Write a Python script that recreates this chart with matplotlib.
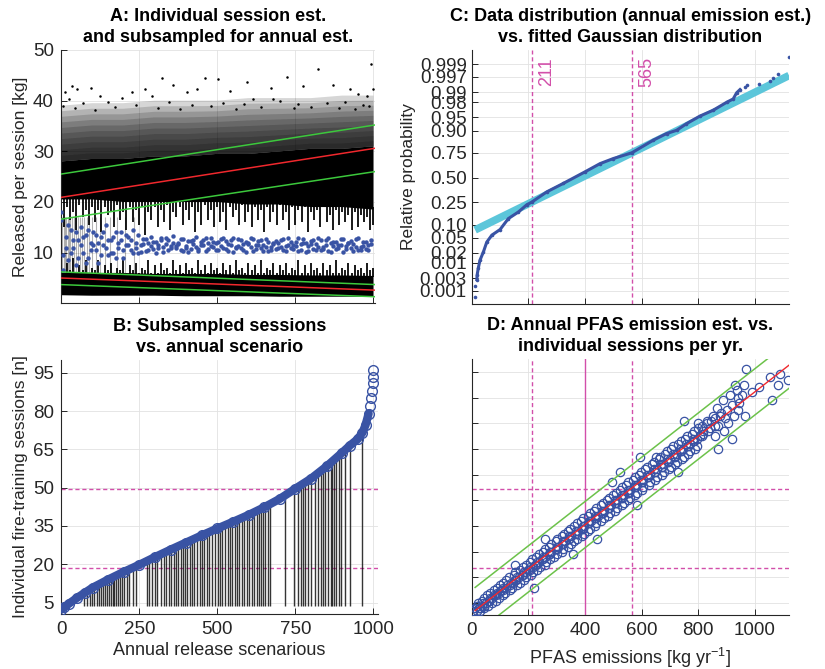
from statistics import NormalDist

import matplotlib
matplotlib.use("Agg")
import matplotlib.pyplot as plt
import numpy as np

plt.rcParams["font.family"] = ["Liberation Sans", "DejaVu Sans"]
plt.rcParams["mathtext.fontset"] = "custom"
plt.rcParams["mathtext.rm"] = "Liberation Sans"
plt.rcParams["mathtext.default"] = "regular"

BLUE = "#3953A4"
CYAN = "#5CC6DA"
MAGENTA = "#D24FAA"
RED = "#F0282D"
GREEN_A = "#3CC83C"
GREEN_D = "#6CC24A"
INK = "#262626"

# ---- panel A: individual sessions (envelopes of the dense cloud)
a_env_x = list(range(0, 1001, 10))
a_core_lo = [
    18.5, 15.0, 19.0, 16.5, 18.0, 14.5, 19.5, 17.0, 18.5, 15.5,
    19.0, 16.0, 18.5, 14.0, 19.0, 17.5, 18.0, 15.0, 19.5, 16.5,
    18.0, 14.5, 19.0, 16.0, 18.5, 15.5, 19.0, 13.5, 18.0, 16.5,
    19.0, 15.0, 18.5, 16.0, 19.5, 14.5, 18.0, 17.0, 19.0, 15.5,
    18.5, 16.5, 19.0, 14.0, 18.0, 15.5, 19.5, 16.5, 18.5, 15.0,
    19.0, 16.0, 18.0, 14.5, 19.0, 17.0, 18.5, 15.5, 19.5, 16.0,
    18.0, 15.0, 19.0, 16.5, 18.5, 14.0, 19.0, 16.0, 18.0, 15.5,
    19.5, 16.5, 18.0, 14.5, 19.0, 15.5, 18.5, 16.0, 19.0, 14.0,
    18.0, 16.5, 18.5, 15.0, 19.0, 16.0, 17.5, 14.5, 18.5, 15.5,
    18.0, 16.0, 17.5, 14.5, 18.0, 15.0, 17.5, 16.0, 17.0, 14.5,
    15.5,
]
a_low_hi = [
    7.5, 6.0, 8.0, 6.5, 9.0, 6.0, 7.5, 6.5, 8.5, 6.0,
    7.0, 6.5, 8.5, 6.0, 7.5, 6.5, 8.0, 6.0, 7.0, 6.5,
    8.5, 6.0, 7.5, 6.5, 8.0, 6.0, 7.0, 6.5, 8.5, 6.0,
    7.5, 6.0, 8.0, 6.5, 7.0, 6.0, 8.5, 6.5, 7.5, 6.0,
    8.0, 6.5, 7.0, 6.0, 8.5, 6.5, 7.5, 6.0, 8.0, 6.5,
    7.0, 6.0, 8.0, 6.5, 7.5, 6.0, 8.5, 6.5, 7.0, 6.0,
    8.0, 6.5, 7.5, 6.0, 8.5, 6.0, 7.0, 6.5, 8.0, 6.0,
    7.5, 6.5, 8.0, 6.0, 7.0, 6.5, 8.5, 6.0, 7.5, 6.0,
    8.0, 6.5, 7.0, 6.0, 8.0, 6.5, 7.5, 6.0, 8.5, 6.0,
    7.0, 6.5, 8.0, 6.0, 7.5, 6.5, 7.0, 6.0, 8.0, 6.5,
    7.0,
]
a_top_x = [0, 100, 200, 300, 400, 500, 600, 700, 800, 900, 1000]
a_core_base = [20.5, 20.5, 20.0, 20.0, 20.0, 20.0, 19.5, 19.5, 19.0, 19.0, 18.5]
a_core_top = [28.0, 28.5, 28.5, 29.0, 29.0, 29.5, 29.5, 30.0, 30.5, 30.5, 31.0]
a_fade_top = [39.0, 39.5, 39.5, 40.0, 40.0, 40.0, 40.5, 40.5, 40.5, 41.0, 41.0]
a_low_base = [6.0, 6.0, 6.0, 5.8, 5.8, 5.8, 5.6, 5.6, 5.5, 5.5, 5.4]
a_low_bottom = [1.6, 1.5, 1.5, 1.5, 1.4, 1.4, 1.4, 1.3, 1.3, 1.3, 1.3]
a_streak_x = [2, 5, 9, 13, 17, 22, 27, 31, 36, 42, 48, 55, 61, 68, 76, 83, 91, 100,
              112, 125, 140, 158, 180, 205, 233]
a_out_x = [14, 25, 35, 53, 96, 126, 195, 227, 270, 291, 323, 360, 403, 435, 462, 504,
           542, 597, 616, 672, 680, 723, 776, 824, 872, 925, 952, 979, 991, 1000,
           8, 45, 70, 110, 150, 175, 240, 310, 345, 380, 420, 480, 520, 560, 585,
           640, 700, 745, 760, 800, 850, 890, 910, 940, 965, 985]
a_out_y = [41.8, 40.4, 42.9, 42.3, 42.5, 41.0, 40.5, 41.8, 42.3, 41.0, 44.5, 43.1, 41.7,
           42.3, 44.5, 44.3, 42.0, 43.7, 40.4, 42.5, 40.4, 44.7, 42.9, 46.2, 43.0, 42.2,
           41.4, 41.0, 47.2, 42.3,
           39.0, 38.5, 39.5, 38.2, 39.8, 38.8, 39.2, 38.6, 39.7, 38.4, 39.1, 38.9, 39.6,
           38.3, 39.4, 38.7, 39.9, 38.5, 39.3, 38.8, 39.5, 38.6, 39.8, 38.4, 39.2, 39.0]
a_blue_x = list(range(0, 1000, 8))
a_blue_y1 = [
    16.5, 9.5, 13.0, 8.5, 14.5, 11.0, 7.5, 12.5, 15.0, 10.0, 13.5, 9.0, 12.0, 14.0, 10.5, 8.0,
    13.0, 11.5, 15.5, 9.5, 12.5, 10.0, 14.0, 11.0, 12.5, 9.0, 13.5, 11.5, 10.5, 14.5, 12.0, 10.0,
    11.5, 12.6, 10.4, 11.9, 13.1, 10.8, 12.2, 11.0, 12.9, 10.2,
    11.7, 12.4, 10.9, 13.3, 11.3, 12.0, 10.6, 12.7, 11.4, 10.1,
    12.3, 11.8, 13.0, 10.7, 11.6, 12.5, 10.3, 11.9, 12.8, 11.1,
    10.5, 12.1, 11.4, 12.9, 10.8, 11.7, 12.4, 10.2, 11.2, 12.6,
    11.0, 10.6, 12.2, 11.8, 12.9, 10.4, 11.5, 12.3, 10.9, 11.6,
    12.7, 10.3, 11.2, 12.0, 10.7, 11.9, 12.5, 10.5, 11.3, 12.8,
    10.9, 11.6, 12.2, 10.4, 11.8, 12.6, 10.1, 11.4, 12.3, 10.8,
    11.7, 12.9, 10.6, 11.1, 12.4, 10.3, 11.9, 12.1, 10.7, 11.5,
    12.6, 10.2, 11.3, 12.0, 10.9, 11.8, 12.7, 10.5, 11.2, 12.2,
    10.8, 11.6, 12.4,
]
a_blue_y2 = [
    18.0, 6.5, 11.0, 15.5, 10.0, 12.5, 14.0, 9.0, 11.5, 13.0, 8.0, 14.5, 10.5, 11.5, 13.5, 12.0,
    9.5, 14.0, 11.0, 12.5, 10.0, 13.0, 9.0, 12.0, 14.0, 10.5, 11.5, 13.0, 12.5, 10.0, 11.0, 13.5,
    10.2, 11.8, 12.7, 10.6, 11.4, 12.2, 10.0, 11.6, 12.4, 11.1,
    12.8, 10.5, 11.3, 12.0, 10.9, 11.7, 12.6, 10.4, 11.0, 12.3,
    10.8, 12.5, 11.2, 10.3, 12.1, 11.5, 12.9, 10.7, 11.3, 12.2,
    11.9, 10.6, 12.7, 11.0, 12.3, 10.4, 11.6, 12.8, 10.9, 11.4,
    12.5, 11.7, 10.2, 12.0, 11.1, 12.6, 10.8, 11.5, 12.4, 10.3,
    11.2, 12.1, 10.6, 11.8, 12.3, 10.9, 11.1, 12.7, 10.4, 11.6,
    12.2, 10.7, 11.4, 12.8, 10.5, 11.9, 12.0, 10.3, 11.7, 12.5,
    10.6, 11.2, 12.4, 10.8, 11.6, 12.9, 10.2, 11.3, 12.1, 10.9,
    11.5, 12.6, 10.7, 11.9, 12.3, 10.4, 11.1, 12.8, 10.6, 11.4,
    12.2, 10.5, 11.8,
]
a_line_x = [0, 1005]
a_red_hi = [20.9, 30.6]
a_green_hi = [[25.5, 35.2], [16.6, 26.0]]
a_red_lo = [5.0, 2.6]
a_green_lo = [[6.2, 3.7], [3.7, 1.3]]

# ---- panel B: sorted sessions per annual scenario
b_idx = [0, 10, 25, 50, 75, 100, 150, 200, 250, 300, 350, 400, 450, 500, 550, 600, 650,
         700, 750, 800, 850, 900, 925, 950, 965, 975, 985, 990, 994, 996, 998, 999, 1000]
b_sessions = [2.2, 3.2, 4.6, 6.8, 8.8, 10.8, 14.0, 17.0, 19.8, 22.8, 25.7, 28.5, 31.3, 34.0,
              36.6, 39.3, 42.3, 45.6, 49.6, 53.5, 58.3, 63.7, 66.5, 69.0, 71.5, 74.5, 79.0,
              82.0, 85.0, 88.0, 91.0, 93.5, 96.0]
b_stem_idx = [72, 83, 92, 99, 104, 113, 120, 126, 134, 140, 147, 152, 158, 164, 168, 174,
              181, 187, 195, 200, 209, 216, 230, 238, 273, 280, 291, 299, 307, 318, 328, 337,
              345, 353, 360, 369, 374, 382, 390, 397, 403, 411, 419, 424, 435, 443, 451, 458,
              467, 472, 483, 493, 501, 508, 516, 524, 533, 540, 548, 556, 562, 569, 578, 586,
              594, 601, 610, 618, 626, 633, 640, 647, 654, 663, 668, 716, 746, 759, 767, 775,
              782, 791, 801, 812, 823, 831, 839, 846, 855, 863, 868, 874, 881, 889, 897, 908,
              924, 964]
b_stem_base = 3.5
quartile_sessions = [18.7, 49.6]

# ---- panel C: sorted annual emissions vs plotting probability
c_kg = [12, 12, 18, 19, 23, 29, 41, 53, 71, 100, 129, 165, 195, 211, 265, 323, 400, 453,
        500, 565, 641, 688, 723, 758, 805, 853, 900, 923, 935, 947, 964, 973, 1015, 1052,
        1062, 1082, 1121]
c_prob = [0.00056, 0.0016, 0.0027, 0.0039, 0.0066, 0.012, 0.021, 0.039, 0.058, 0.078,
          0.131, 0.174, 0.230, 0.250, 0.348, 0.436, 0.562, 0.648, 0.698, 0.750, 0.846,
          0.885, 0.901, 0.929, 0.953, 0.967, 0.980, 0.984, 0.9896, 0.9918, 0.9932, 0.9940,
          0.9948, 0.9957, 0.9968, 0.9976, 0.9995]
fit_mean, fit_sd = 388.0, 263.0
fit_x = [12, 1120]
quartile_kg = [211, 565]
median_kg = 400
prob_ticks = [0.001, 0.003, 0.01, 0.02, 0.05, 0.10, 0.25, 0.50, 0.75, 0.90, 0.95, 0.98,
              0.99, 0.997, 0.999]
prob_labels = ["0.001", "0.003", "0.01", "0.02", "0.05", "0.10", "0.25", "0.50", "0.75",
               "0.90", "0.95", "0.98", "0.99", "0.997", "0.999"]

# ---- panel D: annual emission vs number of sessions
d_sessions = [
    2, 2, 2, 3, 3, 3, 4, 4, 4, 5, 5, 5, 6, 6, 6, 7, 7, 7, 8, 8, 8, 9, 9, 9,
    10, 10, 10, 11, 11, 11, 12, 12, 12, 13, 13, 13, 14, 14, 14, 15, 15, 15,
    16, 16, 16, 17, 17, 17, 18, 18, 18, 19, 19, 19, 20, 20, 20, 21, 21, 21,
    22, 22, 22, 23, 23, 23, 24, 24, 24, 25, 25, 25, 26, 26, 26, 27, 27, 27,
    28, 28, 28, 29, 29, 29, 30, 30, 30, 31, 31, 31, 32, 32, 32, 33, 33, 33,
    34, 34, 34, 35, 35, 35, 36, 36, 36, 37, 37, 37, 38, 38, 38, 39, 39, 39,
    40, 40, 40, 41, 41, 41, 42, 42, 42, 43, 43, 43, 44, 44, 44, 45, 45, 45,
    46, 46, 46, 47, 47, 47, 48, 48, 48, 49, 49, 49, 50, 50, 50, 51, 51, 51,
    52, 52, 52, 53, 53, 53, 54, 54, 54, 55, 55, 55, 56, 56, 56, 57, 57, 57,
    58, 58, 58, 59, 59, 59, 60, 60, 60, 61, 61, 61, 62, 62, 62, 63, 63, 63,
    64, 64, 64, 65, 65, 65, 66, 66, 66,
    67, 67, 68, 68, 69, 69, 70, 70, 71, 71, 72, 72, 73, 73, 74, 74,
    75, 76, 77, 78,
    96, 93, 94, 92, 90, 89, 90, 84, 84, 78, 69, 65, 76, 56, 56, 52, 30, 24, 30, 11,
    20, 43, 62, 62, 80, 82, 85, 75, 78, 83, 72, 70, 88, 86, 79, 74, 78, 76, 75, 72,
    77, 86, 81, 80, 87, 90,
]
d_kg = [
    5, 18, 30, 10, 26, 44, 18, 36, 58, 22, 50, 70, 35, 62, 85, 42, 73, 98, 55, 78, 110, 66, 97, 118,
    78, 102, 135, 88, 120, 142, 100, 125, 160, 112, 146, 170, 122, 152, 185, 130, 168, 190,
    150, 176, 210, 153, 190, 218, 172, 198, 232, 180, 215, 240, 190, 224, 258, 205, 236, 262,
    212, 248, 278, 226, 258, 292, 236, 272, 300, 252, 280, 318, 258, 296, 322, 272, 305, 340,
    280, 318, 350, 296, 328, 362, 302, 342, 370, 318, 352, 388, 326, 366, 395, 340, 374, 410,
    348, 390, 418, 362, 398, 436, 372, 412, 440, 385, 420, 458, 394, 436, 466, 410, 444, 482,
    416, 460, 488, 432, 468, 506, 440, 484, 512, 455, 490, 530, 462, 506, 536, 478, 514, 552,
    485, 530, 560, 500, 538, 578, 508, 552, 584, 522, 560, 600, 530, 576, 606, 545, 584, 625,
    552, 600, 630, 568, 606, 648, 575, 622, 655, 590, 630, 672, 598, 646, 678, 612, 654, 696,
    620, 670, 702, 636, 676, 718, 642, 692, 725, 660, 700, 742, 665, 716, 748, 682, 722, 765,
    688, 738, 770, 705, 745, 788, 712, 762, 795,
    728, 770, 738, 786, 752, 795, 760, 812, 778, 818, 785, 835, 800, 842, 812, 860,
    830, 845, 858, 875,
    968, 1052, 1088, 1115, 1080, 1014, 929, 1061, 888, 964, 917, 870, 749, 729, 523, 494,
    441, 359, 259, 221, 153, 584, 594, 649, 900, 920, 940, 905, 925, 945, 890, 860, 935,
    955, 880, 870, 850, 830, 800, 815, 895, 910, 865, 940, 990, 960,
]
# second pass through the dense middle of the cloud
d_sessions_mid = list(range(3, 71))
d_kg_mid = [
    28, 42, 40, 60, 66, 86, 90, 112, 110, 135, 140, 158, 160, 180, 184, 205, 206, 228,
    232, 252, 252, 275, 276, 300, 300, 322, 322, 345, 345, 370, 368, 392, 392, 415, 414,
    440, 436, 462, 460, 485, 484, 510, 505, 532, 530, 555, 552, 578, 575, 600, 598, 622,
    620, 648, 645, 670, 668, 692, 690, 715, 712, 740, 735, 762, 758, 782, 780, 805,
]
d_fit_x = [12, 1120]
d_fit_n = [2.1, 97.6]
d_band = 9.0


def style_axes(ax):
    for side in ("top", "right"):
        ax.spines[side].set_visible(False)
    for side in ("left", "bottom"):
        ax.spines[side].set_color(INK)
        ax.spines[side].set_linewidth(0.8)
    ax.tick_params(direction="in", length=4, width=0.7, colors=INK, labelsize=13.5, pad=5)
    ax.grid(True, color="#e2e2e2", linewidth=0.6)
    ax.set_axisbelow(True)


def title(ax, text):
    ax.set_title(text, fontsize=13, fontweight="bold", pad=6, linespacing=1.25)


fig = plt.figure(figsize=(8.25, 6.69), dpi=100)
ax_a = fig.add_axes([0.0736, 0.5466, 0.381, 0.3787])
ax_c = fig.add_axes([0.5718, 0.5456, 0.3846, 0.3797])
ax_b = fig.add_axes([0.0736, 0.0822, 0.3842, 0.3797])
ax_d = fig.add_axes([0.5718, 0.0812, 0.3846, 0.3822])

# A
ax = ax_a
style_axes(ax)
env_x = np.array(a_env_x)
top_x = np.array(a_top_x)
core_top = np.array(a_core_top)
fade_top = np.array(a_fade_top)
for k in range(1, 11):
    layer_top = core_top + (fade_top - core_top) * k / 10
    ax.fill(np.r_[top_x, top_x[::-1]], np.r_[core_top, layer_top[::-1]],
            color="black", alpha=0.16, lw=0, zorder=1)
ax.fill(np.r_[top_x, top_x[::-1]], np.r_[a_core_base, core_top[::-1]],
        color="black", lw=0, zorder=2)
core_base_at = np.interp(env_x, top_x, a_core_base)
ax.vlines(env_x, a_core_lo, core_base_at + 0.5, color="black", lw=1.4, alpha=0.9, zorder=2)
ax.fill(np.r_[top_x, top_x[::-1]], np.r_[a_low_base, np.array(a_low_bottom)[::-1]],
        color="black", lw=0, zorder=2)
low_base_at = np.interp(env_x, top_x, a_low_base)
ax.vlines(env_x, low_base_at - 0.3, a_low_hi, color="black", lw=1.4, alpha=0.9, zorder=2)
ax.vlines(a_streak_x, 6, 17, color="black", lw=0.8, alpha=0.3, zorder=2)
ax.plot(a_out_x, a_out_y, ".", color="black", ms=1.6, zorder=2)
ax.plot(a_blue_x, a_blue_y1, "o", color=BLUE, ms=3.2, mec="none", zorder=3)
ax.plot(a_blue_x, a_blue_y2, "o", color=BLUE, ms=3.2, mec="none", zorder=3)
ax.plot(a_line_x, a_red_hi, color=RED, lw=1.1, zorder=4)
ax.plot(a_line_x, a_red_lo, color=RED, lw=1.1, zorder=4)
for g in a_green_hi + a_green_lo:
    ax.plot(a_line_x, g, color=GREEN_A, lw=1.1, zorder=4)
ax.set_xlim(0, 1005)
ax.set_ylim(0, 50)
ax.set_xticks([0, 250, 500, 750, 1000])
ax.set_xticklabels([])
ax.set_yticks([10, 20, 30, 40, 50])
ax.set_ylabel("Released per session [kg]", fontsize=12.5, color=INK)
ax.yaxis.set_label_coords(-0.104, 0.5)
title(ax, "A: Individual session est.\nand subsampled for annual est.")

# B
ax = ax_b
style_axes(ax)
stem_top = np.interp(b_stem_idx, b_idx, b_sessions)
ax.vlines(b_stem_idx, b_stem_base, stem_top, color="#111111", lw=1.0, alpha=0.85, zorder=2)
for q in quartile_sessions:
    ax.axhline(q, color=MAGENTA, lw=1.0, ls=(0, (3, 2)), zorder=1.5)
ax.plot(b_idx[:-6], b_sessions[:-6], color=BLUE, lw=6, solid_capstyle="round", zorder=3)
ax.plot(b_idx, b_sessions, "o", mfc="none", mec=BLUE, ms=7, mew=1.0, zorder=4)
ax.set_xlim(-2, 1014)
ax.set_ylim(0.5, 100)
ax.set_xticks([0, 250, 500, 750, 1000])
ax.set_yticks([5, 20, 35, 50, 65, 80, 95])
ax.set_xlabel("Annual release scenarious", fontsize=13, color=INK, labelpad=3)
ax.set_ylabel("Individual fire-training sessions [n]", fontsize=12.5, color=INK)
ax.yaxis.set_label_coords(-0.103, 0.5)
title(ax, "B: Subsampled sessions\nvs. annual scenario")

# C
nd = NormalDist()
ax = ax_c
style_axes(ax)
ax.tick_params(axis="y", pad=3.5)
c_z = [nd.inv_cdf(p) for p in c_prob]
fit_z = [(x - fit_mean) / fit_sd for x in fit_x]
for q in quartile_kg:
    ax.axvline(q, color=MAGENTA, lw=1.0, ls=(0, (3, 2)), zorder=1.5)
    ax.text(q + 22, 3.28, str(q), rotation=90, color=MAGENTA, fontsize=13,
            ha="left", va="top")
ax.plot(fit_x, fit_z, color=CYAN, lw=5.5, solid_capstyle="butt", zorder=2)
ax.plot(c_kg[2:30], c_z[2:30], color=BLUE, lw=2.2, zorder=3)
ax.plot(c_kg, c_z, "o", color=BLUE, ms=2.6, mec="none", zorder=3)
ax.set_xlim(0, 1120)
ax.set_ylim(-3.45, 3.48)
ax.set_xticks([0, 200, 400, 600, 800, 1000])
ax.set_xticklabels([])
ax.set_yticks([nd.inv_cdf(p) for p in prob_ticks])
ax.set_yticklabels(prob_labels)
ax.set_ylabel("Relative probability", fontsize=12.5, color=INK)
ax.yaxis.set_label_coords(-0.175, 0.5)
title(ax, "C: Data distribution (annual emission est.)\nvs. fitted Gaussian distribution")

# D
ax = ax_d
style_axes(ax)
for q in quartile_kg:
    ax.axvline(q, color=MAGENTA, lw=1.0, ls=(0, (3, 2)), zorder=1.5)
ax.axvline(median_kg, color=MAGENTA, lw=1.0, zorder=1.5)
for q in quartile_sessions:
    ax.axhline(q, color=MAGENTA, lw=1.0, ls=(0, (3, 2)), zorder=1.5)
ax.plot(d_kg, d_sessions, "o", mfc="none", mec=BLUE, ms=6, mew=0.9, zorder=3)
ax.plot(d_kg_mid, d_sessions_mid, "o", mfc="none", mec=BLUE, ms=6, mew=0.9, zorder=3)
ax.plot(d_fit_x, d_fit_n, color=RED, lw=1.0, zorder=4)
ax.plot(d_fit_x, [v + d_band for v in d_fit_n], color=GREEN_D, lw=1.1, zorder=4)
ax.plot(d_fit_x, [v - d_band for v in d_fit_n], color=GREEN_D, lw=1.1, zorder=4)
ax.set_xlim(0, 1120)
ax.set_ylim(0.5, 100)
ax.set_xticks([0, 200, 400, 600, 800, 1000])
ax.set_yticks([5, 15, 25, 35, 45, 55, 65, 75, 85, 95])
ax.set_yticklabels([])
ax.set_xlabel("PFAS emissions [kg yr$^{-1}$]", fontsize=13, color=INK, labelpad=5)
title(ax, "D: Annual PFAS emission est. vs.\nindividual sessions per yr.")

fig.savefig("out.png", dpi=100, facecolor="white")
